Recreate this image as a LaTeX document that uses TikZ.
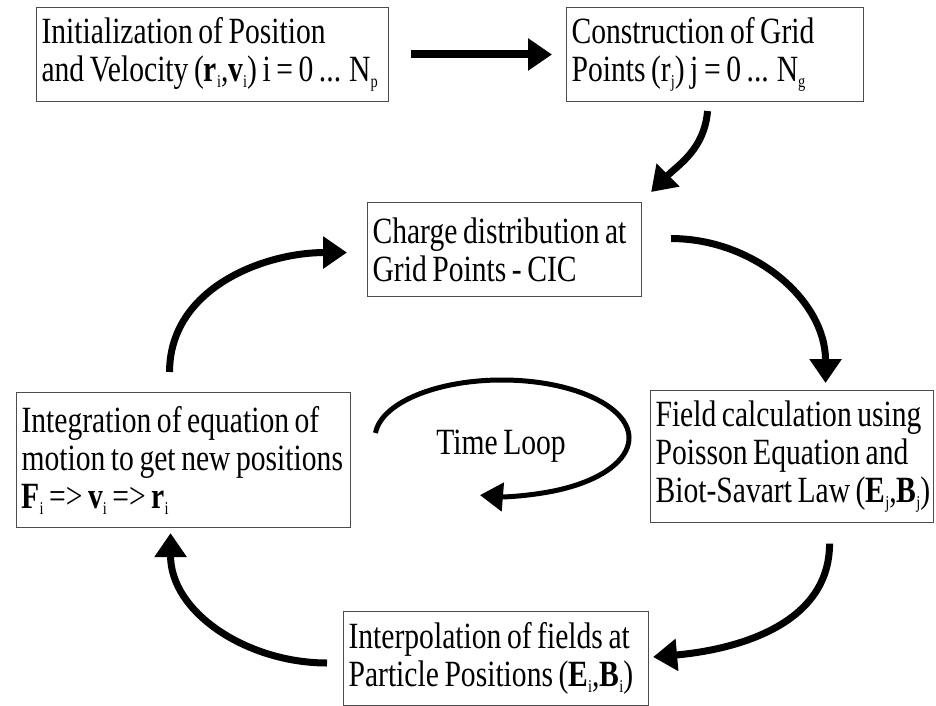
\documentclass[tikz,border=0pt]{standalone}
\usepackage{fontspec}
\newfontfamily\boxfont[FakeStretch=0.8, WordSpace=0.75]{Liberation Serif}
\usetikzlibrary{arrows.meta}
\newcommand{\lowidx}[1]{\raisebox{-6pt}{\fontsize{18}{18}\selectfont #1}}

\begin{document}
\begin{tikzpicture}[
    x=1pt, y=1pt,
    stage/.style={draw=black!70, line width=1.1pt, anchor=north west, align=flush left,
                  font=\boxfont\fontsize{37}{38}\selectfont,
                  inner xsep=5pt, inner ysep=10pt},
    ar/.style={-{Triangle[length=24pt,width=31pt]}, line width=7pt},
    lar/.style={-{Triangle[length=23pt,width=28pt]}, line width=5pt}
  ]
  \useasboundingbox (0,0) rectangle (936,705);

  \node[stage, text width=342pt, minimum height=90pt] (init) at (36,698)
       {\mbox{Initialization of Position}\\
        \mbox{and Velocity (\textbf{r}\lowidx{i},\textbf{v}\lowidx{i}) i = 0 ... N\lowidx{p}}};
  \node[stage, text width=287pt, minimum height=92pt] (constr) at (566,698)
       {\mbox{Construction of Grid}\\
        \mbox{Points (r\lowidx{j}) j = 0 ... N\lowidx{g}}};
  \node[stage, text width=264pt, minimum height=94pt] (charge) at (367,503)
       {\mbox{Charge distribution at}\\
        \mbox{Grid Points - CIC}};
  \node[stage, text width=273pt, minimum height=127pt] (field) at (650,315)
       {\mbox{Field calculation using}\\
        \mbox{Poisson Equation and}\\
        \mbox{Biot-Savart Law (\textbf{E}\lowidx{j},\textbf{B}\lowidx{j})}};
  \node[stage, text width=295pt, minimum height=94pt] (interp) at (343,94)
       {\mbox{Interpolation of fields at}\\
        \mbox{Particle Positions (\textbf{E}\lowidx{i},\textbf{B}\lowidx{i})}};
  \node[stage, text width=324pt, minimum height=135pt] (integ) at (16,313)
       {\mbox{Integration of equation of}\\
        \mbox{motion to get new positions}\\
        \mbox{\textbf{F}\lowidx{i} => \textbf{v}\lowidx{i} => \textbf{r}\lowidx{i}}};

  \node[font=\boxfont\fontsize{37}{38}\selectfont] (tloop) at (501,259) {Time Loop};

  \draw[ar, line width=8pt, shorten <=22pt, shorten >=14pt] (init.east) -- (init.east -| constr.west);
  \draw[ar] ([shift={(-7.5,-9)}]constr.south) to[out=-95, in=45] ([shift={(9,10)}]charge.north east);
  \draw[ar] ([shift={(29,11)}]charge.east) to[out=0, in=90] ([shift={(33.5,7)}]field.north);
  \draw[ar] ([shift={(37.5,-21)}]field.south) to[out=-90, in=5] ([shift={(4,-46)}]interp.north east);
  \draw[ar] ([shift={(-16,-52)}]interp.north west) to[out=180, in=-90] ([shift={(-13,-5)}]integ.south);
  \draw[ar] ([shift={(-14,20)}]integ.north) to[out=90, in=180] ([shift={(-20,-3)}]charge.west);

  \draw[lar] (tloop.center) ++(1,8) ++(175:127 and 58)
       arc[start angle=175, end angle=-100, x radius=127, y radius=58];
\end{tikzpicture}
\end{document}
